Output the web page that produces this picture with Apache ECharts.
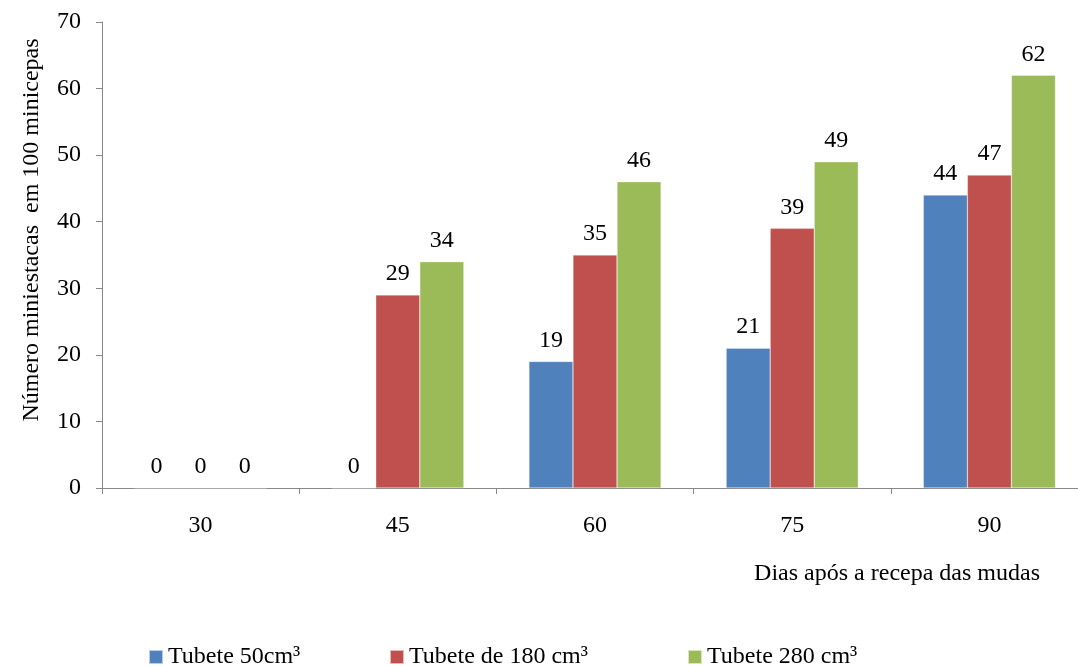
<!DOCTYPE html>
<html>
<head>
<meta charset="utf-8">
<script src="https://cdn.jsdelivr.net/npm/echarts@6/dist/echarts.min.js"></script>
<style>
  html, body { margin: 0; padding: 0; background: #fff; overflow: hidden; width: 1078px; height: 666px; }
  /* the plot runs slightly past the right edge of the page */
  #chart { width: 1100px; height: 666px; }
</style>
</head>
<body>
<div id="chart"></div>
<script>
// Days after pruning of the mini-stumps
const categories = ['30', '45', '60', '75', '90'];

// Number of mini-cuttings per 100 mini-stumps, by container volume
const tubete50 = [0, 0, 19, 21, 44];
const tubete180 = [0, 29, 35, 39, 47];
const tubete280 = [0, 34, 46, 49, 62];

const seriesNames = ['Tubete 50cm³', 'Tubete de 180 cm³', 'Tubete 280 cm³'];
const colors = ['#4F81BD', '#C0504D', '#9BBB59'];

const FONT = '"Liberation Serif", "DejaVu Serif", serif';
const FS = 24;

const chart = echarts.init(document.getElementById('chart'));

function barSeries(name, data, color) {
  return {
    name: name,
    type: 'bar',
    data: data,
    barGap: '0%',
    barCategoryGap: '33%',
    itemStyle: { color: color, borderColor: 'rgba(255,255,255,0.6)', borderWidth: 0.5 },
    label: {
      show: true,
      position: 'top',
      distance: 9,
      color: '#000',
      fontFamily: FONT,
      fontSize: FS
    }
  };
}

function legendAt(left, name) {
  return {
    top: 640,
    left: left,
    itemWidth: 14,
    itemHeight: 14,
    itemGap: 0,
    icon: 'rect',
    textStyle: { color: '#000', fontFamily: FONT, fontSize: FS },
    data: [name]
  };
}

chart.setOption({
  animation: false,
  backgroundColor: '#fff',
  grid: { left: 102, top: 22, width: 986, bottom: 178, containLabel: false },
  xAxis: {
    type: 'category',
    data: categories,
    axisLine: { lineStyle: { color: '#888', width: 1 } },
    axisTick: { show: true, length: 6, lineStyle: { color: '#888' } },
    axisLabel: { color: '#000', fontFamily: FONT, fontSize: FS, margin: 26 }
  },
  yAxis: {
    type: 'value',
    min: 0,
    max: 70,
    interval: 10,
    axisLine: { show: true, lineStyle: { color: '#888', width: 1 } },
    axisTick: { show: true, length: 6, lineStyle: { color: '#888' } },
    splitLine: { show: false },
    axisLabel: { color: '#000', fontFamily: FONT, fontSize: FS, margin: 21 }
  },
  legend: [
    legendAt(143, seriesNames[0]),
    legendAt(384, seriesNames[1]),
    legendAt(682, seriesNames[2])
  ],
  graphic: [{
    type: 'text',
    x: 32,
    y: 230,
    rotation: Math.PI / 2,
    style: {
      text: 'Número miniestacas  em 100 minicepas',
      fill: '#000',
      font: FS + 'px ' + FONT,
      align: 'center',
      verticalAlign: 'middle'
    }
  }, {
    type: 'text',
    x: 1040,
    y: 574,
    style: {
      text: 'Dias após a recepa das mudas',
      fill: '#000',
      font: FS + 'px ' + FONT,
      align: 'right',
      verticalAlign: 'middle'
    }
  }],
  series: [
    barSeries(seriesNames[0], tubete50, colors[0]),
    barSeries(seriesNames[1], tubete180, colors[1]),
    barSeries(seriesNames[2], tubete280, colors[2])
  ]
});
</script>
</body>
</html>
